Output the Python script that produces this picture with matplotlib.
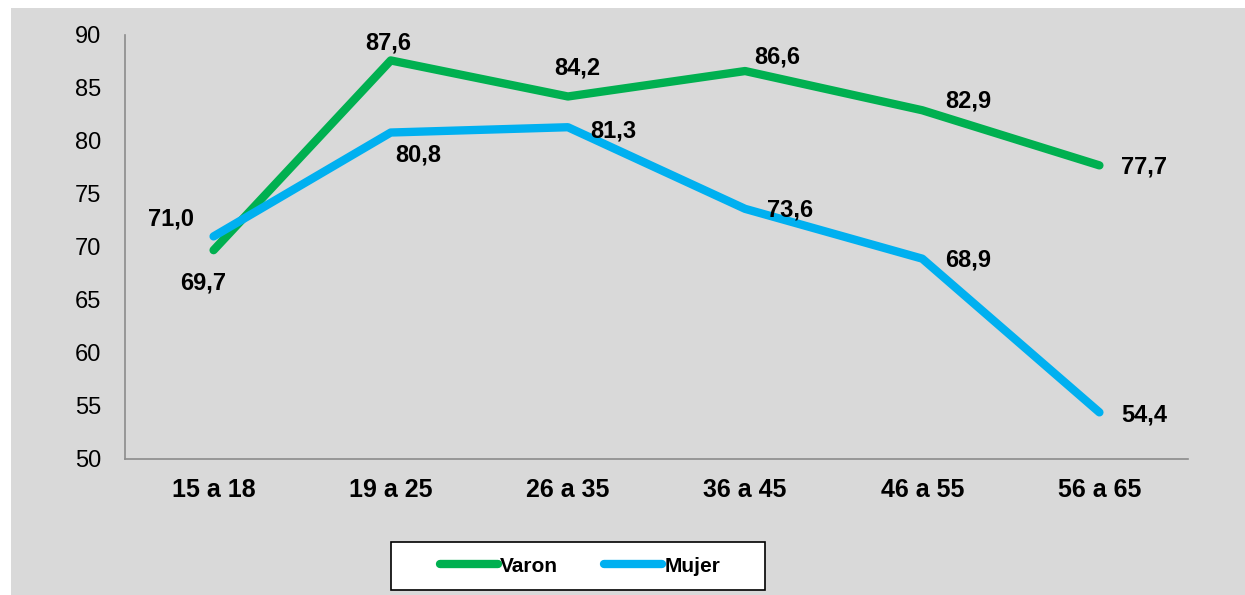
import matplotlib.pyplot as plt
from matplotlib.patches import Rectangle

categories = ["15 a 18", "19 a 25", "26 a 35", "36 a 45", "46 a 55", "56 a 65"]
varon = [69.7, 87.6, 84.2, 86.6, 82.9, 77.7]
mujer = [71.0, 80.8, 81.3, 73.6, 68.9, 54.4]
yticks = [50, 55, 60, 65, 70, 75, 80, 85, 90]

green = "#00B050"
blue = "#00B0F0"
bg = "#D9D9D9"

plt.rcParams["font.family"] = ["Liberation Sans", "DejaVu Sans"]

fig = plt.figure(figsize=(12.45, 5.95), dpi=100)
fig.patch.set_facecolor("white")
# gray chart area (the original has a thin white border at left and top)
fig.patches.append(Rectangle((11 / 1245, 0), 1, 587 / 595, transform=fig.transFigure,
                             facecolor=bg, edgecolor="none", zorder=-10))

ax = fig.add_axes([125 / 1245, 1 - 459 / 595, 1063 / 1245, 424 / 595])
ax.set_facecolor(bg)
x = list(range(len(categories)))
ax.plot(x, varon, color=green, lw=6, solid_capstyle="round", solid_joinstyle="round", label="Varon")
ax.plot(x, mujer, color=blue, lw=6, solid_capstyle="round", solid_joinstyle="round", label="Mujer")

ax.set_xlim(-0.5, 5.5)
ax.set_ylim(50, 90)
ax.set_yticks(yticks)
ax.set_yticklabels([str(v) for v in yticks], fontsize=17)
ax.set_xticks(x)
ax.set_xticklabels(categories, fontsize=18, fontweight="bold")
ax.tick_params(axis="both", length=0)
ax.tick_params(axis="x", pad=14)
ax.tick_params(axis="y", pad=17)
for s in ["top", "right"]:
    ax.spines[s].set_visible(False)
for s in ["left", "bottom"]:
    ax.spines[s].set_color("#8c8c8c")
    ax.spines[s].set_linewidth(1.2)

# label offsets in pixels (dx, dy)
varon_off = [(-10, -33), (-3, 17), (9, 28), (32, 14), (46, 9), (45, -2)]
mujer_off = [(-43, 17), (27, -22), (45, -4), (45, -1), (46, -1), (45, -3)]


def fmt(v):
    return f"{v:.1f}".replace(".", ",")


for i, v in enumerate(varon):
    ax.annotate(fmt(v), (i, v), xytext=varon_off[i], textcoords="offset pixels",
                ha="center", va="center", fontsize=17, fontweight="bold")
for i, v in enumerate(mujer):
    ax.annotate(fmt(v), (i, v), xytext=mujer_off[i], textcoords="offset pixels",
                ha="center", va="center", fontsize=17, fontweight="bold")

# legend box drawn separately so its padding matches the original
fig.patches.append(Rectangle((391 / 1245, 1 - 590 / 595), 374 / 1245, 48 / 595,
                             transform=fig.transFigure, facecolor="white",
                             edgecolor="black", lw=1.2, zorder=4))
leg = fig.legend(loc="center", bbox_to_anchor=(580 / 1245, 1 - 566 / 595), ncol=2,
                 frameon=False, handlelength=2.8, handletextpad=0.1,
                 columnspacing=2.2, prop={"size": 15, "weight": "bold"})
leg.set_zorder(5)

fig.savefig("out.png", dpi=100, facecolor=fig.get_facecolor())
